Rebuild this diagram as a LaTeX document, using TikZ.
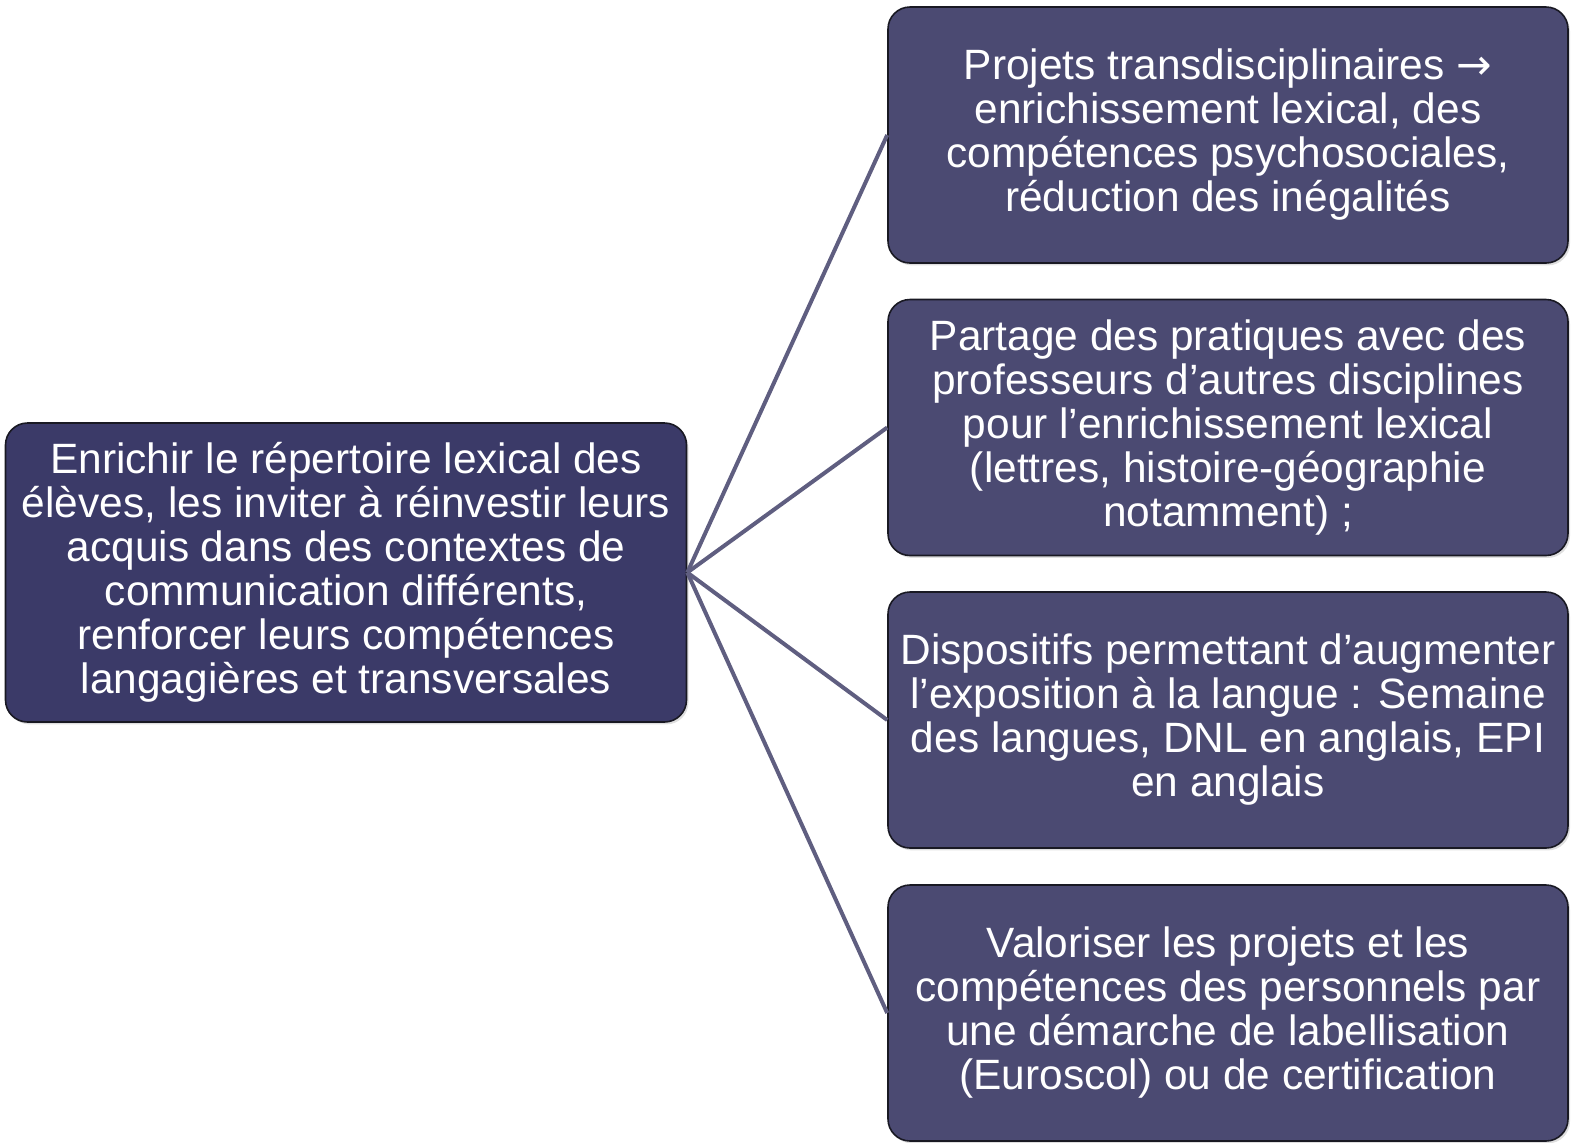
\documentclass[tikz,border=0pt]{standalone}
\usepackage{fontspec}
\setmainfont{Liberation Sans}
\newfontfamily\arrowfont{DejaVu Sans}
\usepackage{tikz}
\usetikzlibrary{positioning,shadows}
\definecolor{rootfill}{RGB}{59,58,104}
\definecolor{leaffill}{RGB}{75,74,114}
\definecolor{linkcol}{RGB}{95,94,128}
\definecolor{edgeblk}{RGB}{25,25,35}
\tikzset{
  box/.style={draw=edgeblk,line width=0.8pt,rounded corners=11pt,align=center,
              text=white,font=\fontsize{21.2}{22}\selectfont,inner sep=0pt,
              drop shadow={opacity=0.25,shadow xshift=1pt,shadow yshift=-1.2pt}},
  rootbox/.style={box,fill=rootfill,minimum width=340.5pt,minimum height=149.5pt},
  leafbox/.style={box,fill=leaffill,minimum width=340pt,minimum height=128pt},
  link/.style={draw=linkcol,line width=2pt},
}

\begin{document}
\begin{tikzpicture}[x=0.5pt,y=-0.5pt]
  \useasboundingbox (0,0) rectangle (1575,1142);

  \node[rootbox] (enr) at (346,572.5)
        {Enrichir le répertoire lexical des\\élèves, les inviter à réinvestir leurs\\acquis dans des contextes de\\communication différents,\\renforcer leurs compétences\\langagières et transversales};

  \node[leafbox] (proj) at (1228,135)
        {Projets transdisciplinaires {\arrowfont →}\\enrichissement lexical, des\\compétences psychosociales,\\réduction des inégalités};
  \node[leafbox] (part) at (1228,427.5)
        {Partage des pratiques avec des\\professeurs d’autres disciplines\\pour l’enrichissement lexical\\(lettres, histoire-géographie\\notamment) ;};
  \node[leafbox] (disp) at (1228,720)
        {Dispositifs permettant d’augmenter\\l’exposition à la langue : Semaine\\des langues, DNL en anglais, EPI\\en anglais};
  \node[leafbox] (valo) at (1228,1013)
        {Valoriser les projets et les\\compétences des personnels par\\une démarche de labellisation\\(Euroscol) ou de certification};

  \foreach \t in {proj,part,disp,valo}
    \draw[link] (enr.east) -- (\t.west);

\end{tikzpicture}
\end{document}
